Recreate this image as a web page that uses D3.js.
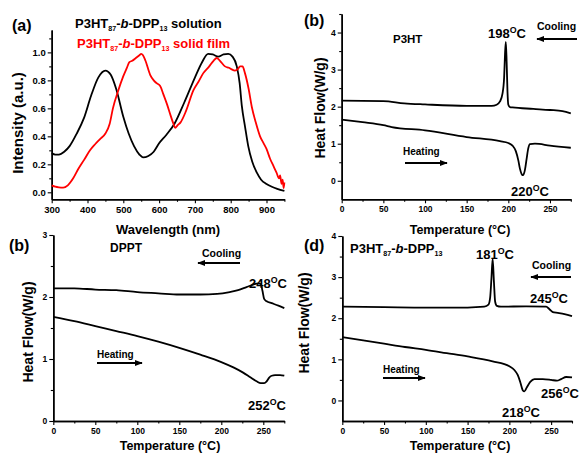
<!DOCTYPE html>
<html><head><meta charset="utf-8">
<script src="https://cdn.jsdelivr.net/npm/d3@7"></script>
<style>
body{margin:0;background:#fff}
svg{display:block}
text{font-family:Arial,"Liberation Sans",sans-serif;font-weight:bold}
</style>
</head><body>
<svg id="c" width="581" height="455"></svg>
<script>
// ---------- Panel (a): UV-vis absorption ----------
const solWl  = [300,310,320,335,350,370,390,410,430,450,465,480,500,515,530,545,555,570,585,600,620,643,670,700,720,737,750,765,780,793,805,817,825,831,840,849,860,873,885,900,915,930,950];
const solInt = [0.28,0.27,0.27,0.29,0.33,0.42,0.53,0.69,0.82,0.87,0.84,0.74,0.54,0.42,0.33,0.27,0.25,0.26,0.29,0.35,0.41,0.49,0.64,0.82,0.93,0.99,0.985,0.97,0.985,0.99,0.97,0.90,0.78,0.62,0.47,0.33,0.22,0.14,0.09,0.06,0.04,0.025,0.01];
const filmWl  = [300,310,320,332,345,360,375,390,407,420,435,450,462,471,485,500,510,517,525,535,545,550,555,562,575,585,593,603,612,622,632,640,645,652,660,675,696,710,723,740,752,761,770,784,795,802,812,820,826,833,840,850,859,870,882,892,900,910,919,928,935,938,942,945,948,950];
const filmInt = [0.05,0.04,0.035,0.033,0.05,0.10,0.17,0.23,0.30,0.34,0.38,0.42,0.49,0.60,0.72,0.83,0.89,0.93,0.94,0.96,0.98,0.99,0.98,0.94,0.84,0.80,0.78,0.76,0.70,0.63,0.55,0.49,0.46,0.48,0.50,0.58,0.73,0.79,0.85,0.90,0.94,0.96,0.94,0.90,0.89,0.88,0.87,0.88,0.90,0.90,0.85,0.74,0.61,0.50,0.40,0.35,0.31,0.24,0.19,0.14,0.10,0.12,0.06,0.09,0.03,0.07];
const wlTicks = [300,400,500,600,700,800,900];
const wlMinor = [350,450,550,650,750,850,950];
const intTicks = [0,0.2,0.4,0.6,0.8,1.0];
const intMinor = [0.1,0.3,0.5,0.7,0.9,1.1];

// ---------- Panel (b): P3HT DSC ----------
const p3htCoolT = [0,50,75,100,150,180,186,190,193,195,196,197,198,199,200,202,205,230,250,265,275];
const p3htCoolH = [2.16,2.15,2.09,2.06,2.02,2.02,2.05,2.14,2.35,2.8,3.4,3.75,3.2,2.4,2.05,1.99,1.98,1.94,1.91,1.88,1.82];
const p3htHeatT = [0,25,50,60,100,150,190,200,205,209,212,214,216,217,218,220,222,224,226,232,250,275];
const p3htHeatH = [1.65,1.58,1.5,1.45,1.36,1.18,1.07,1.02,0.95,0.8,0.55,0.32,0.18,0.15,0.16,0.3,0.6,0.88,0.99,1.0,0.95,0.89];

// ---------- Panel (c): DPPT DSC ----------
const dpptCoolT = [0,25,50,75,100,125,150,175,195,210,220,230,238,244,247,249,251,254,260,268,275];
const dpptCoolH = [2.14,2.14,2.12,2.11,2.08,2.06,2.04,2.04,2.05,2.08,2.11,2.16,2.2,2.22,2.21,2.1,1.97,1.93,1.9,1.86,1.82];
const dpptHeatT = [0,25,50,75,100,125,150,175,200,215,226,235,242,247,251,254,257,260,264,270,275];
const dpptHeatH = [1.68,1.61,1.53,1.45,1.37,1.28,1.18,1.07,0.95,0.86,0.78,0.70,0.64,0.61,0.61,0.64,0.70,0.73,0.74,0.74,0.73];

// ---------- Panel (d): P3HT87-b-DPP13 DSC ----------
const bcCoolT = [0,50,100,150,170,175,177,178.5,180,181.5,183,185,190,220,244,248,252,258,266,275];
const bcCoolH = [2.28,2.27,2.26,2.26,2.28,2.33,2.5,2.95,3.45,2.9,2.4,2.3,2.28,2.29,2.28,2.22,2.15,2.13,2.1,2.05];
const bcHeatT = [0,25,50,75,100,125,150,180,200,206,210,213,216,218,221,225,230,240,250,257,262,268,275];
const bcHeatH = [1.54,1.46,1.38,1.3,1.23,1.15,1.07,0.95,0.83,0.74,0.62,0.45,0.25,0.22,0.32,0.45,0.52,0.52,0.5,0.48,0.52,0.57,0.56];

const tTicks = [0,50,100,150,200,250];
const tMinor = [25,75,125,175,225,275];

const svg = d3.select("#c");
const defs = svg.append("defs");
defs.append("marker").attr("id","ah").attr("viewBox","0 0 10 10").attr("refX",9).attr("refY",5)
  .attr("markerWidth",4).attr("markerHeight",4).attr("orient","auto-start-reverse")
  .append("path").attr("d","M0,1 L10,5 L0,9 z").attr("fill","#000");

function panel(o){
  const x = d3.scaleLinear().domain(o.xd).range(o.xr);
  const y = d3.scaleLinear().domain(o.yd).range(o.yr);
  const g = svg.append("g");
  const by = o.yr[0], lx = o.xr[0];
  const style = (sel, fs) => {
    sel.select(".domain").attr("stroke","#000").attr("stroke-width",1.5);
    sel.selectAll(".tick line").attr("stroke","#000").attr("stroke-width",1.1);
    sel.selectAll("text").attr("font-size",fs).attr("fill","#000").attr("font-family","Arial, Liberation Sans, sans-serif").attr("font-weight","bold");
  };
  g.append("g").attr("transform",`translate(0,${by})`)
    .call(d3.axisBottom(x).tickValues(o.xm).tickSize(2.5).tickFormat("").tickSizeOuter(0)).call(s=>style(s,o.fs));
  g.append("g").attr("transform",`translate(0,${by})`)
    .call(d3.axisBottom(x).tickValues(o.xt).tickSize(4).tickPadding(3).tickSizeOuter(0)).call(s=>style(s,o.fs));
  g.append("g").attr("transform",`translate(${lx},0)`)
    .call(d3.axisLeft(y).tickValues(o.ym).tickSize(2.5).tickFormat("").tickSizeOuter(0)).call(s=>style(s,o.fs));
  g.append("g").attr("transform",`translate(${lx},0)`)
    .call(d3.axisLeft(y).tickValues(o.yt).tickSize(4).tickPadding(2).tickSizeOuter(0).tickFormat(o.yf)).call(s=>style(s,o.fs));
  const line = d3.line().x(d=>x(d[0])).y(d=>y(d[1])).curve(d3.curveMonotoneX);
  o.series.forEach(s=>{
    g.append("path").datum(d3.zip(s.x,s.y)).attr("d",line)
      .attr("fill","none").attr("stroke",s.c).attr("stroke-width",1.8).attr("stroke-linejoin","round");
  });
  return {x,y,g};
}

// Panel (a)
panel({xd:[300,950],xr:[51.7,284.4],yd:[-0.05,1.16],yr:[199.3,30],xt:wlTicks,xm:wlMinor,yt:intTicks,ym:intMinor,
  yf:d3.format(".1f"),fs:9.5,
  series:[{x:solWl,y:solInt,c:"#000"},{x:filmWl,y:filmInt,c:"#f00"}]});
// Panel (b)
panel({xd:[0,275],xr:[341.7,570.8],yd:[-0.5,4.5],yr:[199.3,14],xt:tTicks,xm:tMinor,yt:[0,1,2,3,4],ym:[0.5,1.5,2.5,3.5,4.5],
  yf:d3.format("d"),fs:8.5,
  series:[{x:p3htCoolT,y:p3htCoolH,c:"#000"},{x:p3htHeatT,y:p3htHeatH,c:"#000"}]});
// Panel (c)
panel({xd:[0,275],xr:[53.3,284.3],yd:[0,3],yr:[421,235],xt:tTicks,xm:tMinor,yt:[0,1,2,3],ym:[0.5,1.5,2.5],
  yf:d3.format("d"),fs:8.5,
  series:[{x:dpptCoolT,y:dpptCoolH,c:"#000"},{x:dpptHeatT,y:dpptHeatH,c:"#000"}]});
// Panel (d)
panel({xd:[0,275],xr:[342.3,572],yd:[-0.5,4],yr:[421,236],xt:tTicks,xm:tMinor,yt:[0,1,2,3,4],ym:[0.5,1.5,2.5,3.5],
  yf:d3.format("d"),fs:8.5,
  series:[{x:bcCoolT,y:bcCoolH,c:"#000"},{x:bcHeatT,y:bcHeatH,c:"#000"}]});

// ---------- text helpers ----------
function txt(x,y,size,color,parts,anchor){
  const t = svg.append("text").attr("x",x).attr("y",y).attr("font-size",size).attr("fill",color)
    .attr("text-anchor",anchor||"start");
  parts.forEach(p=>{
    const s = t.append("tspan").text(p.t);
    if(p.sub){ s.attr("font-size",size*0.55).attr("dy",size*0.22); }
    if(p.unsub){ s.attr("dy",-size*0.22); }
    if(p.sup){ s.attr("font-size",size*0.68).attr("dy",-size*0.35); }
    if(p.unsup){ s.attr("dy",size*0.35); }
    if(p.it){ s.attr("font-style","italic"); }
  });
  return t;
}
function rot(x,y,size,label){
  svg.append("text").attr("transform",`translate(${x},${y}) rotate(-90)`).attr("text-anchor","middle")
    .attr("font-size",size).attr("fill","#000").text(label);
}
function arrow(x1,x2,y){
  svg.append("line").attr("x1",x1).attr("x2",x2).attr("y1",y).attr("y2",y)
    .attr("stroke","#000").attr("stroke-width",2).attr("marker-end","url(#ah)");
}
const blockName = (sfx)=>[{t:"P3HT"},{t:"87",sub:true},{t:"-",unsub:true},{t:"b",it:true},{t:"-DPP"},{t:"13",sub:true},{t:sfx,unsub:true}];
const deg = (n)=>[{t:n},{t:"O",sup:true},{t:"C",unsup:true}];

// Panel (a) texts
txt(12,31,16,"#000",[{t:"(a)"}]);
txt(75,28,13,"#000",blockName(" solution"));
txt(77,48,13,"#f00",blockName(" solid film"));
rot(23,123,15,"Intensity (a.u.)");
txt(168,234,13,"#000",[{t:"Wavelength (nm)"}],"middle");

// Panel (b) texts
txt(304,26,16,"#000",[{t:"(b)"}]);
txt(393,43,11.5,"#000",[{t:"P3HT"}]);
txt(488,38,13,"#000",deg("198"));
txt(537,30,10.5,"#000",[{t:"Cooling"}]);
arrow(577,537,39);
txt(403,155,10,"#000",[{t:"Heating"}]);
arrow(405,447,163);
txt(511,196,13,"#000",deg("220"));
rot(325,108,14,"Heat Flow(W/g)");
txt(460,234,12.5,"#000",[{t:"Temperature (°C)"}],"middle");

// Panel (c) texts
txt(9,251,16,"#000",[{t:"(b)"}]);
txt(110,252,12,"#000",[{t:"DPPT"}]);
txt(202,257,10.5,"#000",[{t:"Cooling"}]);
arrow(240,198,263);
txt(97,358,10,"#000",[{t:"Heating"}]);
arrow(97,142,363);
txt(249,288,13,"#000",deg("248"));
txt(248,410,13,"#000",deg("252"));
rot(33,332,14,"Heat Flow(W/g)");
txt(170,450,12.5,"#000",[{t:"Temperature (°C)"}],"middle");

// Panel (d) texts
txt(304,251,16,"#000",[{t:"(d)"}]);
txt(350,253,13,"#000",blockName(""));
txt(476,259,13,"#000",deg("181"));
txt(532,269,10.5,"#000",[{t:"Cooling"}]);
arrow(571,531,277);
txt(530,303,13,"#000",deg("245"));
txt(383,373,10,"#000",[{t:"Heating"}]);
arrow(383,425,378);
txt(541,398,13,"#000",deg("256"));
txt(502,417,13,"#000",deg("218"));
rot(309,323,14,"Heat Flow(W/g)");
txt(460,450,12.5,"#000",[{t:"Temperature (°C)"}],"middle");
</script>
</body></html>
